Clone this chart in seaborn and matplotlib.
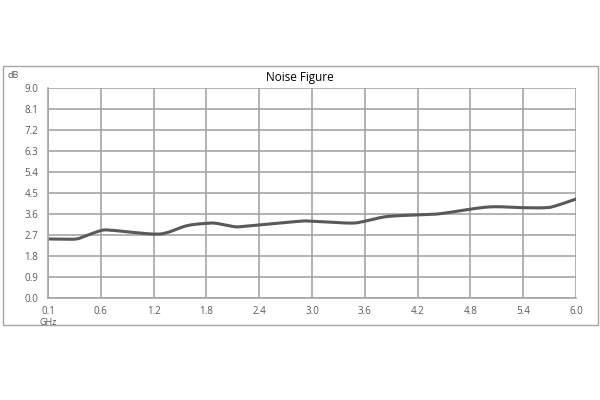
import numpy as np
import pandas as pd
import matplotlib
matplotlib.use("Agg")
import matplotlib.pyplot as plt
import seaborn as sns
from matplotlib.patches import Rectangle

# Data
freq_ghz = [0.1, 0.25, 0.37, 0.45, 0.6, 0.7, 0.89, 1.2, 1.35, 1.58, 1.8, 1.91, 2.11, 2.2,
            2.4, 2.86, 3.0, 3.43, 3.6, 3.85, 4.2, 4.45, 4.8, 5.06, 5.4, 5.65, 5.76, 6.0]
nf_db = [2.53, 2.52, 2.53, 2.65, 2.89, 2.91, 2.84, 2.74, 2.80, 3.10, 3.20, 3.20, 3.06, 3.06,
         3.13, 3.29, 3.29, 3.21, 3.29, 3.49, 3.56, 3.61, 3.81, 3.91, 3.87, 3.87, 3.94, 4.24]
x_ticks = [0.1, 0.6, 1.2, 1.8, 2.4, 3.0, 3.6, 4.2, 4.8, 5.4, 6.0]
x_tick_labels = ["0.1", "0.6", "1.2", "1.8", "2.4", "3.0", "3.6", "4.2", "4.8", "5.4", "6.0"]
y_ticks = [0.0, 0.9, 1.8, 2.7, 3.6, 4.5, 5.4, 6.3, 7.2, 8.1, 9.0]
y_tick_labels = ["0.0", "0.9", "1.8", "2.7", "3.6", "4.5", "5.4", "6.3", "7.2", "8.1", "9.0"]

sns.set_theme(style="white")
plt.rcParams["font.family"] = ["Open Sans", "DejaVu Sans"]


def catmull_rom(xs, ys, n=20):
    """Centripetal-free uniform Catmull-Rom smoothing of a polyline (drawing only)."""
    xs = np.asarray(xs, float)
    ys = np.asarray(ys, float)
    px = np.concatenate([[2 * xs[0] - xs[1]], xs, [2 * xs[-1] - xs[-2]]])
    py = np.concatenate([[2 * ys[0] - ys[1]], ys, [2 * ys[-1] - ys[-2]]])
    t = np.linspace(0, 1, n, endpoint=False)
    outx, outy = [], []
    for i in range(1, len(px) - 2):
        for arr, out in ((px, outx), (py, outy)):
            p0, p1, p2, p3 = arr[i - 1], arr[i], arr[i + 1], arr[i + 2]
            out.extend(0.5 * ((2 * p1) + (-p0 + p2) * t + (2 * p0 - 5 * p1 + 4 * p2 - p3) * t ** 2
                              + (-p0 + 3 * p1 - 3 * p2 + p3) * t ** 3))
    outx.append(xs[-1])
    outy.append(ys[-1])
    return np.array(outx), np.array(outy)


# axis is equally spaced per tick (category-like scale); map GHz through the tick scale
tick_pos = np.arange(len(x_ticks))
pos = np.interp(freq_ghz, x_ticks, tick_pos)
sx, sy = catmull_rom(pos, nf_db)
df = pd.DataFrame({"pos": sx, "nf": sy})

fig = plt.figure(figsize=(6, 4), dpi=100)
ax = fig.add_axes([0.08, 0.255, 0.88, 0.525])

fig.patches.append(Rectangle((0.005, 0.1875), 0.992, 0.6475, transform=fig.transFigure,
                             fill=False, edgecolor="#a6a6a6", linewidth=1.0))

sns.lineplot(data=df, x="pos", y="nf", ax=ax, color="#595959", linewidth=2.2,
             sort=False, estimator=None)

ax.set_xlim(0, len(x_ticks) - 1)
ax.set_ylim(0, 9)
ax.set_xticks(tick_pos)
ax.set_xticklabels(x_tick_labels)
ax.set_yticks(y_ticks)
ax.set_yticklabels(y_tick_labels)
ax.grid(True, color="#a6a6a6", linewidth=1.2)
ax.set_axisbelow(True)
for sp in ax.spines.values():
    sp.set_visible(False)
for side in ("left", "bottom"):
    ax.spines[side].set_visible(True)
    ax.spines[side].set_color("#a6a6a6")
    ax.spines[side].set_linewidth(1.2)
ax.tick_params(axis="y", length=0, labelsize=7, labelcolor="#595959", pad=7)
ax.tick_params(axis="x", length=0, labelsize=7, labelcolor="#595959", pad=6)
ax.set_xlabel("")
ax.set_ylabel("")

fig.text(0.5, 0.805, "Noise Figure", fontsize=8.5, color="#000000", ha="center", va="center")
fig.text(0.012, 0.81, "dB", fontsize=6.5, color="#595959", ha="left", va="center")
fig.text(0.08, 0.193, "GHz", fontsize=6.5, color="#595959", ha="center", va="center")

fig.savefig("out.png", dpi=100)
